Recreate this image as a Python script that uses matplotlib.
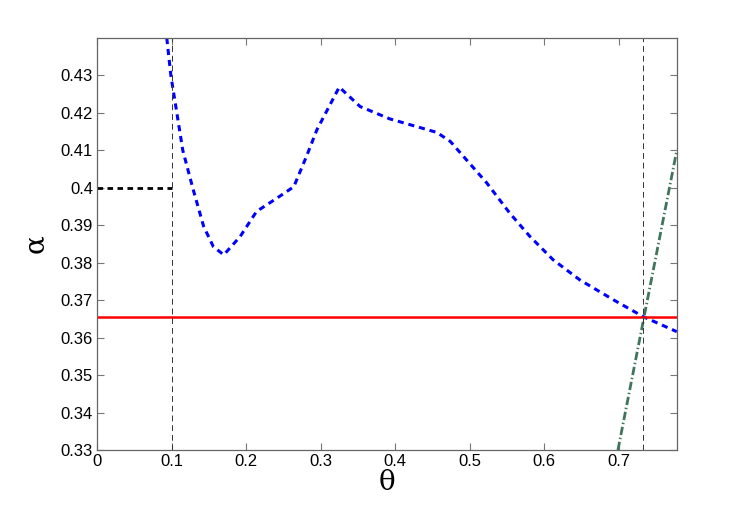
import numpy as np
import matplotlib
matplotlib.use("Agg")
import matplotlib.pyplot as plt

plt.rcParams['font.family'] = ['Liberation Sans', 'DejaVu Sans']

# blue dashed curve
theta_curve = [0.0935, 0.099, 0.107, 0.115, 0.129, 0.143, 0.156, 0.170, 0.192, 0.214, 0.241,
               0.264, 0.281, 0.295, 0.325, 0.353, 0.393, 0.456, 0.474, 0.523, 0.554,
               0.581, 0.612, 0.648, 0.693, 0.733, 0.778]
alpha_curve = [0.440, 0.430, 0.420, 0.410, 0.3995, 0.3897, 0.3843, 0.3821, 0.3870, 0.3937, 0.3972,
               0.4003, 0.4084, 0.4155, 0.4269, 0.4217, 0.4184, 0.4148, 0.4124, 0.4013, 0.3932,
               0.3870, 0.3808, 0.3754, 0.3701, 0.3656, 0.3616]

# green dash-dot line
theta_green = [0.699, 0.778]
alpha_green = [0.33, 0.410]

alpha_red = 0.3656          # horizontal red line
alpha_black = 0.40          # short black dashed segment
theta_marks = [0.1, 0.733]  # thin vertical dashed lines

fig = plt.figure(figsize=(7.47, 5.07), dpi=100)
ax = fig.add_axes([0.130, 0.1124, 0.776, 0.8126])

ax.plot(theta_curve, alpha_curve, color='blue', lw=2.2, ls=(0, (2, 1.6)))
ax.axhline(alpha_red, color='red', lw=1.8)
ax.plot([0, theta_marks[0]], [alpha_black, alpha_black], color='black', lw=2, ls=(0, (2, 1.6)))
ax.plot(theta_green, alpha_green, color='#3f765a', lw=2, ls=(0, (3, 1, 0.5, 1)))
for t in theta_marks:
    ax.axvline(t, color='#333333', lw=0.7, ls=(0, (6, 4)))

ax.set_xlim(0, 0.778)
ax.set_ylim(0.33, 0.44)
ax.set_xticks(np.arange(0, 0.71, 0.1))
ax.set_xticklabels(['0', '0.1', '0.2', '0.3', '0.4', '0.5', '0.6', '0.7'])
ax.set_yticks(np.arange(0.33, 0.435, 0.01))
ax.set_yticklabels(['0.33', '0.34', '0.35', '0.36', '0.37', '0.38', '0.39', '0.4',
                    '0.41', '0.42', '0.43'])
ax.tick_params(direction='in', top=True, right=True, labelsize=12, length=5,
               color='#777777', width=0.8, pad=3)
for s in ax.spines.values():
    s.set_color('#666666')
    s.set_linewidth(0.9)

ax.set_xlabel('θ', fontsize=20, family='DejaVu Serif', labelpad=0)
ax.set_ylabel('α', fontsize=20, family='DejaVu Serif', labelpad=8)

fig.savefig('out.png', dpi=100)
